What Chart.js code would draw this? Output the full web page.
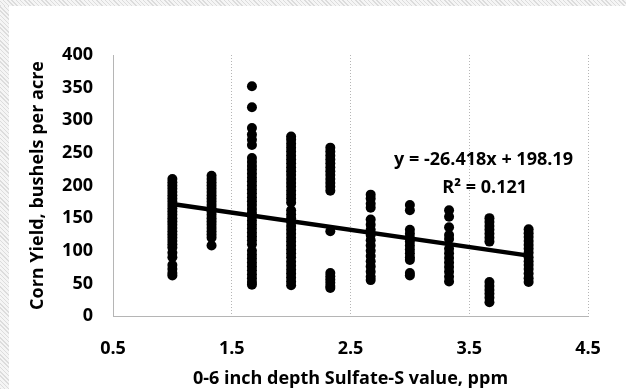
<!DOCTYPE html>
<html>
<head>
<meta charset="utf-8">
<script src="https://cdn.jsdelivr.net/npm/chart.js@4"></script>
<style>
  html, body { margin: 0; padding: 0; background: #fff; }
  #wrap { position: relative; width: 626px; height: 389px; }
  #edgeL, #edgeT { position: absolute; left: 0; top: 0; pointer-events: none;
    background-image: repeating-linear-gradient(45deg, #dcdcdc 0 1px, #f5f5f5 1px 3px); }
  #edgeL { width: 9px; height: 389px; }
  #edgeT { width: 626px; height: 6px; }
</style>
</head>
<body>
<div id="wrap">
  <canvas id="chart" width="626" height="389"></canvas>
  <div id="edgeL"></div>
  <div id="edgeT"></div>
</div>
<script>
// sulfate-S levels (ppm) and the yields read at each level
const sulfateLevels = [1, 1.33, 1.67, 2, 2.33, 2.67, 3, 3.33, 3.67, 4];
const yieldsAt1 = [210, 205, 200, 195, 190, 185, 180, 175, 170, 165, 160, 155, 150, 145, 140, 135, 130, 125, 120, 115, 110, 105, 97, 90, 78, 72, 66, 62];
const yieldsAt133 = [215, 210, 205, 200, 195, 190, 185, 180, 175, 170, 165, 160, 155, 150, 145, 140, 135, 130, 125, 120, 108];
const yieldsAt167 = [352, 320, 288, 278, 270, 262, 242, 236, 230, 224, 218, 212, 206, 200, 194, 188, 182, 176, 170, 164, 158, 152, 146, 140, 134, 128, 122, 116, 110, 100, 94, 88, 82, 76, 70, 64, 58, 52, 48];
const yieldsAt2 = [275, 270, 264, 258, 252, 246, 240, 234, 228, 222, 216, 210, 204, 198, 192, 186, 180, 174, 162, 156, 150, 144, 138, 132, 126, 120, 114, 108, 102, 96, 90, 83, 77, 71, 65, 59, 53, 47];
const yieldsAt233 = [258, 252, 246, 240, 234, 228, 222, 216, 210, 204, 198, 192, 130, 66, 61, 56, 51, 46, 43];
const yieldsAt267 = [186, 180, 172, 166, 148, 140, 132, 124, 116, 108, 100, 92, 84, 76, 68, 60, 55];
const yieldsAt3 = [170, 162, 132, 126, 120, 114, 108, 102, 96, 90, 86, 66, 62];
const yieldsAt333 = [162, 152, 136, 124, 118, 103, 96, 89, 82, 75, 68, 60, 53];
const yieldsAt367 = [150, 144, 138, 132, 126, 120, 114, 52, 46, 40, 34, 28, 21];
const yieldsAt4 = [133, 127, 121, 115, 109, 103, 97, 90, 84, 78, 72, 65, 58, 52];
const yieldColumns = [yieldsAt1, yieldsAt133, yieldsAt167, yieldsAt2, yieldsAt233, yieldsAt267, yieldsAt3, yieldsAt333, yieldsAt367, yieldsAt4];

const xTicks = [0.5, 1.5, 2.5, 3.5, 4.5];
const yTicks = [0, 50, 100, 150, 200, 250, 300, 350, 400];

// fitted line as printed on the chart
const slope = -26.418;
const intercept = 198.19;
const equationText = 'y = -26.418x + 198.19';
const r2Text = 'R\u00b2 = 0.121';

const points = [];
sulfateLevels.forEach((s, i) => {
  yieldColumns[i].forEach(v => points.push({ x: s, y: v }));
});
const trend = [
  { x: 1, y: slope * 1 + intercept },
  { x: 4, y: slope * 4 + intercept }
];

const FONT = "'Open Sans', 'DejaVu Sans', sans-serif";

const labelPlugin = {
  id: 'trendLabel',
  afterDatasetsDraw(chart) {
    const { ctx, scales: { x, y } } = chart;
    ctx.save();
    ctx.fillStyle = '#000';
    ctx.font = 'bold 18px ' + FONT;
    ctx.textAlign = 'center';
    ctx.textBaseline = 'middle';
    ctx.fillText(equationText, x.getPixelForValue(3.62), y.getPixelForValue(240));
    ctx.fillText(r2Text, x.getPixelForValue(3.63), y.getPixelForValue(196));
    ctx.restore();
  }
};

new Chart(document.getElementById('chart'), {
  type: 'scatter',
  data: {
    datasets: [
      {
        label: 'Yield',
        data: points,
        backgroundColor: '#000',
        borderWidth: 0,
        pointRadius: 5,
        order: 2
      },
      {
        type: 'line',
        label: 'Linear',
        data: trend,
        borderColor: '#000',
        borderWidth: 4.5,
        pointRadius: 0,
        fill: false,
        order: 1
      }
    ]
  },
  options: {
    responsive: false,
    animation: false,
    layout: { padding: { top: 55, right: 38, left: 0, bottom: 0 } },
    plugins: { legend: { display: false }, tooltip: { enabled: false } },
    scales: {
      x: {
        type: 'linear',
        min: 0.5,
        max: 4.5,
        afterBuildTicks: s => { s.ticks = xTicks.map(v => ({ value: v })); },
        afterFit: s => { s.height = 73; },
        grid: { color: '#b5b5b5', drawTicks: false, lineWidth: 1 },
        border: { display: true, color: '#b5b5b5', dash: [1, 2] },
        ticks: {
          color: '#000',
          padding: 22,
          font: { family: FONT, size: 18, weight: 'bold' },
          callback: v => v.toFixed(1)
        },
        title: {
          display: true,
          text: '0-6 inch depth Sulfate-S value, ppm',
          color: '#000',
          padding: { top: 0, bottom: -1 },
          font: { family: FONT, size: 18, weight: 'bold' }
        }
      },
      y: {
        min: 0,
        max: 400,
        afterBuildTicks: s => { s.ticks = yTicks.map(v => ({ value: v })); },
        afterFit: s => { s.width = 113; },
        grid: { display: false, drawTicks: false },
        border: { display: true, color: '#b5b5b5', dash: [1, 2] },
        ticks: {
          color: '#000',
          padding: 20,
          font: { family: FONT, size: 18, weight: 'bold' }
        },
        title: {
          display: true,
          text: 'Corn Yield, bushels per acre',
          color: '#000',
          padding: { top: 27, bottom: 0 },
          font: { family: FONT, size: 18, weight: 'bold' }
        }
      }
    }
  },
  plugins: [labelPlugin]
});
</script>
</body>
</html>
